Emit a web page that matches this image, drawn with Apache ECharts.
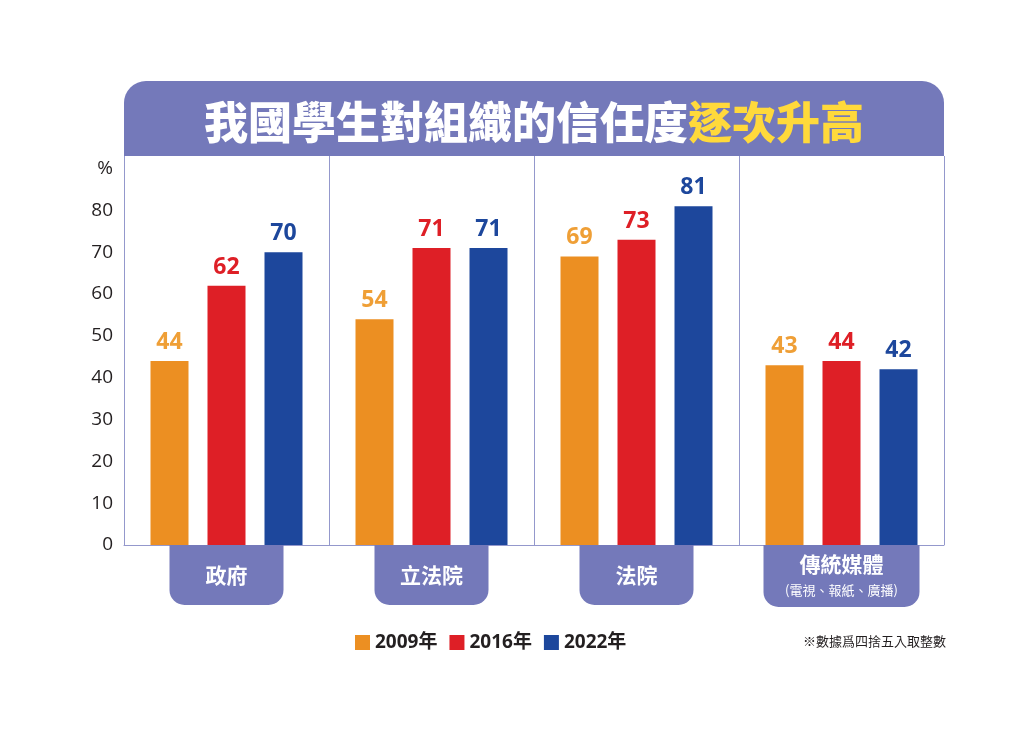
<!DOCTYPE html>
<html>
<head>
<meta charset="utf-8">
<script src="https://cdn.jsdelivr.net/npm/echarts@6/dist/echarts.min.js"></script>
<style>
  html, body { margin: 0; padding: 0; background: #fff; }
  #chart { width: 1024px; height: 739px; }
</style>
</head>
<body>
<div id="chart"></div>
<script>
// 資料
const categories = ['政府', '立法院', '法院', '傳統媒體'];
const subLabel = '(電視、報紙、廣播)';
const years = ['2009年', '2016年', '2022年'];
const v2009 = [44, 54, 69, 43];
const v2016 = [62, 71, 73, 44];
const v2022 = [70, 71, 81, 42];
const yTicks = [0, 10, 20, 30, 40, 50, 60, 70, 80];

const purple = '#7479BA';
const lineColor = '#9498CC';
const barColors = ['#EC8F22', '#DE1F26', '#1D479C'];
const labelColors = ['#EF9F36', '#DE1F26', '#1D479C'];
const cjk = "'Noto Sans CJK TC', 'Noto Sans CJK SC', sans-serif";
const num = "'Open Sans', 'Noto Sans CJK TC', sans-serif";

const chart = echarts.init(document.getElementById('chart'));

const makeSeries = (name, values, i) => ({
  name: name,
  type: 'bar',
  data: values,
  barWidth: 38,
  barGap: '50%',
  itemStyle: { color: barColors[i] },
  label: {
    show: true,
    position: 'top',
    distance: 7,
    fontFamily: num,
    fontSize: 23,
    fontWeight: 'bold',
    color: labelColors[i]
  }
});

const option = {
  backgroundColor: '#fff',
  animation: false,
  grid: { left: 124, right: 80, top: 156, bottom: 194 },
  legend: {
    data: years,
    left: 350,
    top: 628,
    icon: 'rect',
    itemWidth: 15,
    itemHeight: 15,
    itemGap: 12,
    textStyle: { fontFamily: num, fontSize: 19, fontWeight: 'bold', color: '#231F20' }
  },
  xAxis: {
    type: 'category',
    data: categories.map((c) => c === '傳統媒體'
      ? { value: c, textStyle: { width: 156, padding: [0, 0, 10, 0] } }
      : { value: c }),
    axisLine: { lineStyle: { color: lineColor, width: 1 } },
    axisTick: { show: false },
    splitLine: { show: true, lineStyle: { color: lineColor, width: 1 } },
    axisLabel: {
      interval: 0,
      margin: 0,
      width: 114,
      align: 'center',
      backgroundColor: purple,
      borderRadius: [0, 0, 15, 15],
      padding: [0, 0, 0, 0],
      formatter: function (v) {
        if (v === '傳統媒體') return '{m|' + v + '}\n{s|' + subLabel + '}';
        return '{n|' + v + '}';
      },
      rich: {
        n: { fontFamily: cjk, fontSize: 21, fontWeight: 'bold', color: '#fff', lineHeight: 60, align: 'center' },
        m: { fontFamily: cjk, fontSize: 21, fontWeight: 'bold', color: '#fff', lineHeight: 38, align: 'center' },
        s: { fontFamily: cjk, fontSize: 13, color: '#fff', lineHeight: 14, align: 'center' }
      }
    }
  },
  yAxis: {
    type: 'value',
    min: 0,
    max: 93,
    interval: 10,
    axisLine: { show: true, lineStyle: { color: lineColor, width: 1 } },
    axisTick: { show: false },
    splitLine: { show: false },
    axisLabel: {
      margin: 11,
      fontFamily: num,
      fontSize: 19,
      color: '#231F20',
      formatter: function (v) {
        if (v === 90) return '%';
        return yTicks.indexOf(v) >= 0 ? String(v) : '';
      }
    }
  },
  graphic: [
    {
      type: 'rect',
      shape: { x: 124, y: 81, width: 820, height: 75, r: [22, 22, 0, 0] },
      style: { fill: purple },
      z: 10
    },
    {
      type: 'text',
      x: 534,
      y: 122,
      z: 11,
      style: {
        text: '{w|我國學生對組織的信任度}{y|逐次升高}',
        align: 'center',
        verticalAlign: 'middle',
        rich: {
          w: { fontFamily: cjk, fontSize: 44, fontWeight: 900, fill: '#fff' },
          y: { fontFamily: cjk, fontSize: 44, fontWeight: 900, fill: '#FFD93B' }
        }
      }
    },
    {
      type: 'text',
      x: 946,
      y: 641,
      style: {
        text: '※數據爲四捨五入取整數',
        align: 'right',
        verticalAlign: 'middle',
        fontFamily: cjk,
        fontSize: 13,
        fill: '#231F20'
      }
    }
  ],
  series: [
    makeSeries(years[0], v2009, 0),
    makeSeries(years[1], v2016, 1),
    makeSeries(years[2], v2022, 2)
  ]
};

chart.setOption(option);
</script>
</body>
</html>
